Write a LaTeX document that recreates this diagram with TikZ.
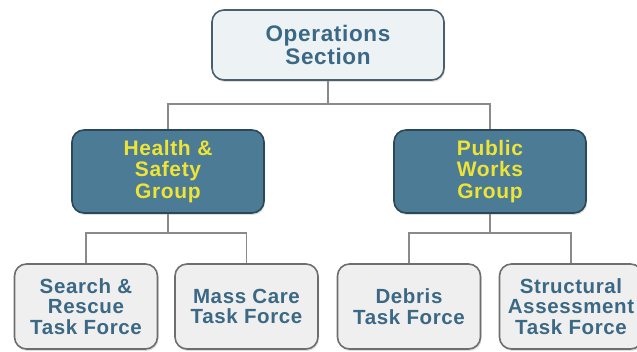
\documentclass[tikz,border=0pt]{standalone}
\usepackage{fontspec}
\setmainfont{Liberation Sans}[LetterSpace=3]
\usetikzlibrary{shadows}
\definecolor{secfill}{HTML}{EDF2F5}
\definecolor{secline}{HTML}{4A5F6E}
\definecolor{bluetext}{HTML}{3B6884}
\definecolor{grpfill}{HTML}{4B7B95}
\definecolor{grpline}{HTML}{2C4757}
\definecolor{grptext}{HTML}{EEE436}
\definecolor{tfill}{HTML}{EFEFEF}
\definecolor{tline}{HTML}{6E6E6E}
\definecolor{wire}{HTML}{8A8A8A}
\begin{document}
\begin{tikzpicture}[x=1pt,y=-1pt,
  box/.style={shape=rectangle,rounded corners=12pt,line width=1.6pt,align=center,inner sep=0pt,
    font=\bfseries,drop shadow={shadow xshift=1pt,shadow yshift=-2pt,opacity=0.25}},
  section/.style={box,fill=secfill,draw=secline,text=bluetext,minimum width=232pt,minimum height=70pt,
    font=\fontsize{22.5}{23.5}\selectfont\bfseries},
  group/.style={box,fill=grpfill,draw=grpline,text=grptext,minimum width=192pt,minimum height=83pt,
    font=\fontsize{21}{21.5}\selectfont\bfseries},
  force/.style={box,fill=tfill,draw=tline,text=bluetext,minimum width=143pt,minimum height=85pt,
    font=\fontsize{20.5}{20.5}\selectfont\bfseries},
  wire/.style={draw=wire,line width=1.5pt}]
\useasboundingbox (0,0) rectangle (637,352);
\node[section](ops) at (328,45){Operations\\Section};
\node[group](hs) at (168,171.5){Health \&\\Safety\\Group};
\node[group](pw) at (490,171.5){Public\\Works\\Group};
\node[force](sr) at (86,306.5){Search \&\\Rescue\\Task Force};
\node[force](mc) at (246.5,306.5){Mass Care\\Task Force};
\node[force](db) at (409,306.5){Debris\\Task Force};
\node[force](sa) at (571,306.5){Structural\\Assessment\\Task Force};
% links
\draw[wire] (ops.south) -- ++(0,23) -| (hs.north);
\draw[wire] (ops.south) -- ++(0,23) -| (pw.north);
\draw[wire] (hs.south) -- ++(0,19) -| (sr.north);
\draw[wire] (hs.south) -- ++(0,19) -| (mc.north);
\draw[wire] (pw.south) -- ++(0,19) -| (db.north);
\draw[wire] (pw.south) -- ++(0,19) -| (sa.north);
\end{tikzpicture}
\end{document}
